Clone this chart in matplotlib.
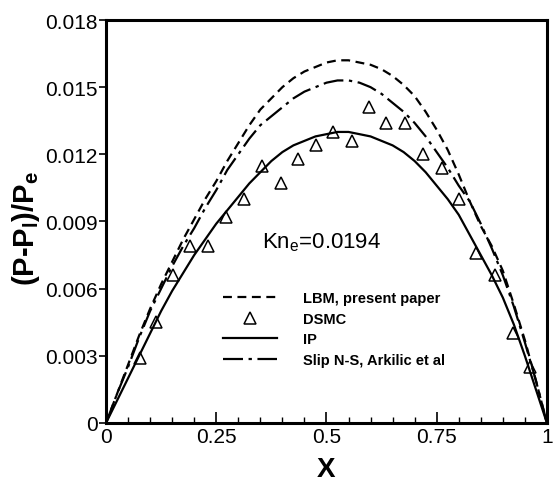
import matplotlib
matplotlib.use("Agg")
import matplotlib.pyplot as plt
from matplotlib.ticker import FixedLocator, MultipleLocator

plt.rcParams["font.family"] = ["Liberation Sans", "DejaVu Sans"]
plt.rcParams["mathtext.fontset"] = "custom"
plt.rcParams["mathtext.rm"] = "Liberation Sans"
plt.rcParams["mathtext.default"] = "regular"

# --- data ------------------------------------------------------------------
x_curve = [0.0, 0.025, 0.05, 0.075, 0.1, 0.125, 0.15, 0.175, 0.2, 0.225,
           0.25, 0.275, 0.3, 0.325, 0.35, 0.375, 0.4, 0.425, 0.45, 0.475,
           0.5, 0.525, 0.55, 0.575, 0.6, 0.625, 0.65, 0.675, 0.7, 0.725,
           0.75, 0.775, 0.8, 0.825, 0.85, 0.875, 0.9, 0.925, 0.95, 0.975,
           1.0]
lbm = [0.0, 0.0013, 0.0026, 0.0039, 0.0051, 0.0062, 0.0072, 0.0082, 0.0091,
       0.0100, 0.0108, 0.0117, 0.0125, 0.0133, 0.0140, 0.0145, 0.0150,
       0.0154, 0.0157, 0.0159, 0.0161, 0.0162, 0.0162, 0.0161, 0.0160,
       0.0158, 0.0155, 0.0151, 0.0146, 0.0139, 0.0131, 0.0122, 0.0111,
       0.0099, 0.0088, 0.0079, 0.0068, 0.0053, 0.0037, 0.0019, 0.0]
slip_ns = [0.0, 0.0013, 0.0025, 0.0038, 0.0050, 0.0060, 0.0070, 0.0079,
           0.0087, 0.0096, 0.0104, 0.0113, 0.0120, 0.0127, 0.0133, 0.0137,
           0.0141, 0.0145, 0.0148, 0.0150, 0.0152, 0.0153, 0.0153, 0.0152,
           0.0150, 0.0147, 0.0143, 0.0139, 0.0134, 0.0128, 0.0121, 0.0114,
           0.0106, 0.0099, 0.0089, 0.0078, 0.0066, 0.0052, 0.0036, 0.0019,
           0.0]
ip = [0.0, 0.0010, 0.0020, 0.0030, 0.0040, 0.0050, 0.0059, 0.0067, 0.0075,
      0.0082, 0.0089, 0.0095, 0.0101, 0.0107, 0.0112, 0.0117, 0.0121,
      0.0124, 0.0126, 0.0128, 0.0129, 0.0130, 0.0130, 0.0129, 0.0128,
      0.0126, 0.0124, 0.0121, 0.0117, 0.0112, 0.0106, 0.0100, 0.0093,
      0.0084, 0.0075, 0.0066, 0.0056, 0.0044, 0.0030, 0.0015, 0.0]

x_dsmc = [0.076, 0.113, 0.151, 0.191, 0.232, 0.272, 0.313, 0.353, 0.396,
          0.436, 0.476, 0.515, 0.557, 0.597, 0.636, 0.677, 0.720, 0.761,
          0.800, 0.840, 0.882, 0.924, 0.961]
dsmc = [0.0029, 0.0045, 0.0066, 0.0079, 0.0079, 0.0092, 0.0100, 0.0115,
        0.0107, 0.0118, 0.0124, 0.0130, 0.0126, 0.0141, 0.0134, 0.0134,
        0.0120, 0.0114, 0.0100, 0.0076, 0.0066, 0.0040, 0.0025]

x_ticks = [0, 0.25, 0.5, 0.75, 1]
x_ticklabels = ["0", "0.25", "0.5", "0.75", "1"]
y_ticks = [0, 0.003, 0.006, 0.009, 0.012, 0.015, 0.018]
y_ticklabels = ["0", "0.003", "0.006", "0.009", "0.012", "0.015", "0.018"]

fig = plt.figure(figsize=(5.53, 4.85), dpi=100)
ax = fig.add_axes([0.1917, 0.1258, 0.7973, 0.8309])

ax.plot(x_curve, lbm, color="black", lw=1.6, ls=(0, (4, 2.5)),
        label="LBM, present paper")
ax.plot(x_dsmc, dsmc, ls="none", marker="^", ms=9, mfc="none", mec="black",
        mew=1.1, label="DSMC")
ax.plot(x_curve, ip, color="black", lw=1.6, label="IP")
ax.plot(x_curve, slip_ns, color="black", lw=1.6, ls=(0, (9, 2.5, 1.5, 2.5)),
        label="Slip N-S, Arkilic et al")

ax.set_xlim(0, 1)
ax.set_ylim(0, 0.018)
ax.xaxis.set_major_locator(FixedLocator(x_ticks))
ax.set_xticklabels(x_ticklabels)
ax.xaxis.set_minor_locator(MultipleLocator(0.05))
ax.yaxis.set_major_locator(FixedLocator(y_ticks))
ax.set_yticklabels(y_ticklabels)

ax.tick_params(axis="x", which="major", direction="in", length=8, width=1.2,
               labelsize=15, pad=3)
ax.tick_params(axis="x", which="minor", direction="in", length=4, width=1.0)
ax.tick_params(axis="y", which="major", direction="out", length=5, width=1.2,
               labelsize=15, pad=1)
for spine in ax.spines.values():
    spine.set_linewidth(2.2)

ax.set_xlabel("X", fontsize=20, fontweight="bold")
ax.xaxis.set_label_coords(0.5, -0.082)
ax.set_ylabel("(P-P$_l$)/P$_e$", fontsize=21, fontweight="bold")
ax.yaxis.set_label_coords(-0.145, 0.486)

ax.text(0.354, 0.0081, "Kn$_e$=0.0194", fontsize=16, ha="left", va="center")

ax.legend(loc="upper left", bbox_to_anchor=(0.249, 0.345), frameon=False,
          borderpad=0, handlelength=3.7, handletextpad=1.8, labelspacing=0.45,
          prop={"weight": "bold", "size": 10.5})

fig.savefig("out.png", dpi=100)
